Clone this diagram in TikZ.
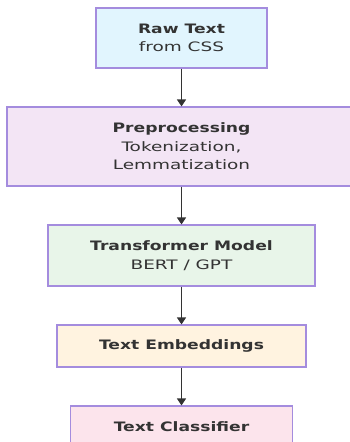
\documentclass[tikz,border=0pt]{standalone}
\usepackage{fontspec}
\usetikzlibrary{arrows.meta}
\newfontfamily\headfont{DejaVu Sans Bold}[FakeStretch=1.32]
\newfontfamily\subfont{DejaVu Sans}[FakeStretch=1.42]
\definecolor{edge}{HTML}{A48CDE}
\definecolor{ink}{HTML}{333333}
\definecolor{fillA}{HTML}{E1F5FE}
\definecolor{fillB}{HTML}{F3E5F5}
\definecolor{fillC}{HTML}{E8F5E9}
\definecolor{fillD}{HTML}{FFF3E0}
\definecolor{fillE}{HTML}{FCE4EC}
\tikzset{
  stage/.style={draw=edge, line width=1.2pt, inner sep=0pt, align=center,
    text=ink, font=\fontsize{13pt}{18.5pt}\selectfont},
  flow/.style={draw=ink, line width=1.2pt, -{Triangle[width=9pt,length=7pt]}}
}
\newcommand{\hd}[1]{{\headfont #1}}
\newcommand{\sub}[1]{{\subfont #1}}
\begin{document}
\begin{tikzpicture}[x=1pt,y=-1pt]
  \useasboundingbox (0,0) rectangle (350,442);
  \clip (0,0) rectangle (350,442);
  \node[stage, fill=fillA, minimum width=171pt, minimum height=60pt] (raw) at (181.5,38)
    {\hd{Raw Text}\\\sub{from CSS}};
  \node[stage, fill=fillB, minimum width=349pt, minimum height=79pt] (prep) at (181.5,146.5)
    {\hd{Preprocessing}\\\sub{Tokenization,}\\\sub{Lemmatization}};
  \node[stage, fill=fillC, minimum width=267pt, minimum height=61pt] (model) at (181.5,255.5)
    {\hd{Transformer Model}\\\sub{BERT / GPT}};
  \node[stage, fill=fillD, minimum width=249pt, minimum height=42pt] (emb) at (181.5,346)
    {\hd{Text Embeddings}};
  \node[stage, fill=fillE, minimum width=222pt, minimum height=41pt] (clf) at (181.5,426.5)
    {\hd{Text Classifier}};
  \draw[flow] (raw) -- (prep);
  \draw[flow] (prep) -- (model);
  \draw[flow] (model) -- (emb);
  \draw[flow] (emb) -- (clf);
\end{tikzpicture}
\end{document}
